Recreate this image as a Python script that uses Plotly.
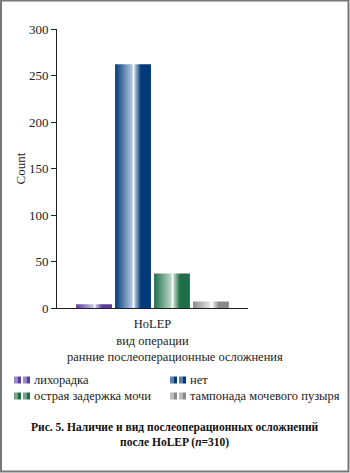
import plotly.graph_objects as go

categories = ["лихорадка", "нет", "острая задержка мочи", "тампонада мочевого пузыря"]
counts = [4, 262, 37, 7]
dark_colors = ["#5a3e9a", "#003a78", "#1f6e4a", "#8a8a8a"]
mid_colors = ["#9a88cc", "#5f7fab", "#74a58c", "#bdbdbd"]
light_colors = ["#c9bde6", "#b7c9e2", "#bcd8c8", "#e6e6e6"]
group_label = "HoLEP"
y_ticks = [0, 50, 100, 150, 200, 250, 300]
legend_title = "ранние послеоперационные осложнения"
caption = "<b>Рис. 5. Наличие и вид послеоперационных осложнений<br>после HoLEP (<i>n</i>=310)</b>"

W, H = 350, 473
L, R, T, B = 0, 0, 29, 165
pw, ph = W - L - R, H - T - B
BASE = T + ph
AX0, AX1 = 57, 248  # axis span in pixels


def px(x):
    return (x - L) / pw


def py(y):
    return (BASE - y) / ph


FONT = "Liberation Serif"
FS = 12.5
fig = go.Figure()
bar_w = 0.92
n = len(categories)
for i, (cat, val) in enumerate(zip(categories, counts)):
    c = i - (n - 1) / 2
    x0, x1 = c - bar_w / 2, c + bar_w / 2
    fig.add_trace(go.Scatter(
        x=[x0, x1, x1, x0, x0], y=[0, 0, val, val, 0],
        mode="lines", fill="toself", line=dict(width=0),
        name=cat, hoverinfo="name+y", showlegend=False,
        fillcolor=dark_colors[i],
        fillgradient=dict(
            type="horizontal",
            colorscale=[[0, dark_colors[i]], [0.48, light_colors[i]], [0.5, "#ffffff"],
                        [0.52, "#ffffff"], [0.55, light_colors[i]], [0.72, dark_colors[i]],
                        [1, dark_colors[i]]],
        ),
    ))

# legend (two columns) built from the categories
annotations = [
    dict(text=legend_title, xref="paper", yref="paper",
         x=px(175), y=py(357), yanchor="middle", xanchor="center",
         showarrow=False, font=dict(family=FONT, size=FS)),
    dict(text=caption, xref="paper", yref="paper", x=px(175), y=py(435),
         yanchor="middle", xanchor="center",
         showarrow=False, font=dict(family=FONT, size=11.5, color="#111"),
         align="center"),
]
shapes = [dict(type="rect", xref="paper", yref="paper",
               x0=px(1), x1=px(348.5), y0=py(471.5), y1=py(0.5),
               line=dict(color="#777", width=2), layer="below")]

col_x = [14, 170]
row_y = [380, 396]
for i, cat in enumerate(categories):
    cx = col_x[i % 2]
    ry = row_y[i // 2]
    for k in range(2):
        sx = cx + k * 9
        shapes.append(dict(type="rect", xref="paper", yref="paper",
                           x0=px(sx), x1=px(sx + 3.5), y0=py(ry + 3.5), y1=py(ry - 3.5),
                           fillcolor=mid_colors[i], line=dict(width=0)))
        shapes.append(dict(type="rect", xref="paper", yref="paper",
                           x0=px(sx + 3.5), x1=px(sx + 7), y0=py(ry + 3.5), y1=py(ry - 3.5),
                           fillcolor=dark_colors[i], line=dict(width=0)))
    annotations.append(dict(text=cat, xref="paper", yref="paper",
                            x=px(cx + 18), y=py(ry), xanchor="left", yanchor="middle",
                            showarrow=False, font=dict(family=FONT, size=FS)))

fig.update_layout(
    width=W, height=H,
    margin=dict(l=L, r=R, t=T, b=B),
    paper_bgcolor="white", plot_bgcolor="rgba(0,0,0,0)",
    font=dict(family=FONT, size=FS, color="#222"),
    xaxis=dict(domain=[px(AX0), px(AX1)], range=[-2.45, 2.45], tickvals=[0],
               ticktext=[group_label], tickfont=dict(size=FS), ticklabelstandoff=4,
               showline=True, linecolor="#222", linewidth=1, showgrid=False,
               zeroline=False, ticks="", fixedrange=True,
               title=dict(text="вид операции", standoff=6, font=dict(size=FS))),
    yaxis=dict(range=[0, 300], tickvals=y_ticks, showline=True, linecolor="#222",
               linewidth=1, showgrid=False, zeroline=False, ticks="outside",
               ticklen=5, tickcolor="#222", fixedrange=True, tickfont=dict(size=13),
               title=dict(text="Count", standoff=0, font=dict(size=13))),
    showlegend=False,
    annotations=annotations,
    shapes=shapes,
)

fig.write_html("out.html")
